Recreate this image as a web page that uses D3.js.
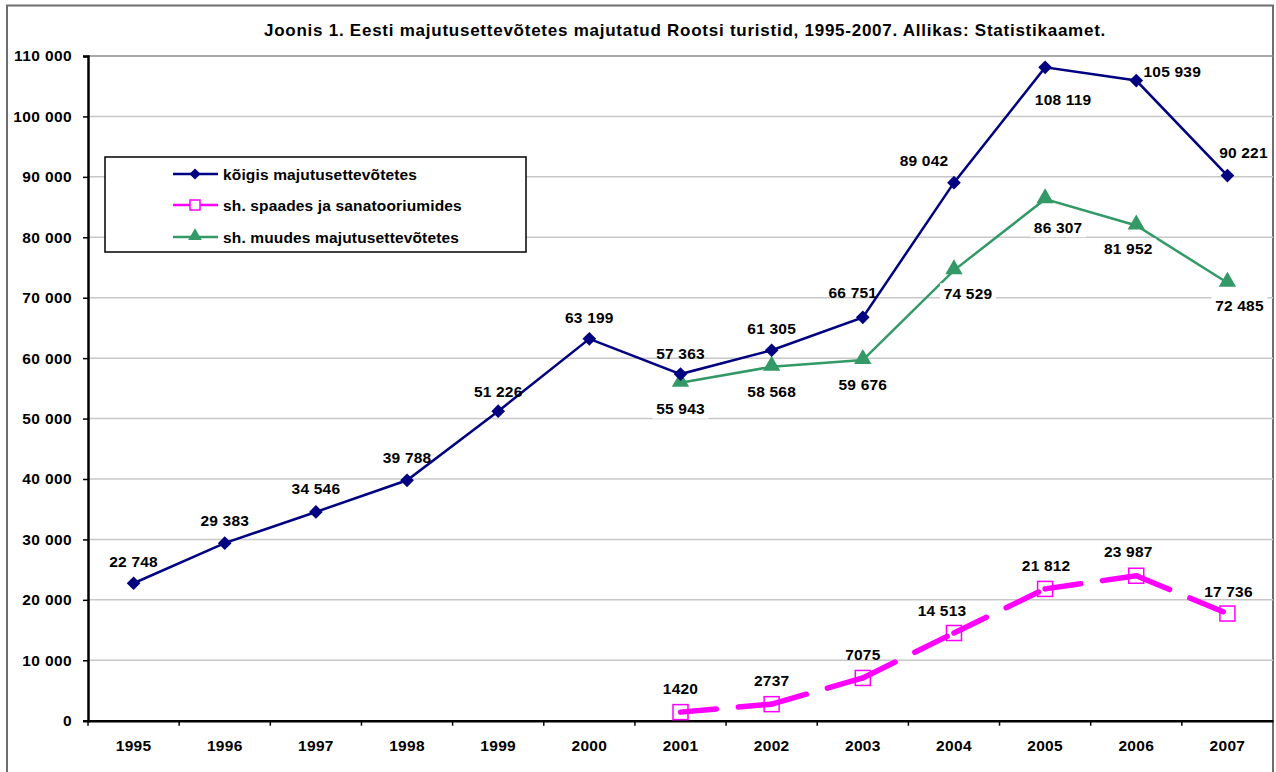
<!DOCTYPE html>
<html>
<head>
<meta charset="utf-8">
<script src="https://cdn.jsdelivr.net/npm/d3@7"></script>
<style>
  body { margin: 0; background: #fff; }
  svg { display: block; font-family: "Liberation Sans", Arial, sans-serif; }
</style>
</head>
<body>
<div id="chart"></div>
<script>

// data
var years = ["1995", "1996", "1997", "1998", "1999", "2000", "2001",
             "2002", "2003", "2004", "2005", "2006", "2007"];

var totalValues = [22748, 29383, 34546, 39788, 51226, 63199, 57363,
                   61305, 66751, 89042, 108119, 105939, 90221];

var spaYears = ["2001", "2002", "2003", "2004", "2005", "2006", "2007"];
var spaValues = [1420, 2737, 7075, 14513, 21812, 23987, 17736];

var otherYears = ["2001", "2002", "2003", "2004", "2005", "2006", "2007"];
var otherValues = [55943, 58568, 59676, 74529, 86307, 81952, 72485];

var legendNames = ["kõigis majutusettevõtetes",
                   "sh. spaades ja sanatooriumides",
                   "sh. muudes majutusettevõtetes"];

var yTicks = [0, 10000, 20000, 30000, 40000, 50000, 60000,
              70000, 80000, 90000, 100000, 110000];

var title = "Joonis 1. Eesti majutusettevõtetes majutatud Rootsi turistid, 1995-2007. Allikas: Statistikaamet.";

// where each data label sits relative to its point (dx, dy)
var totalLabelOff = [[0,-22],[0,-23],[0,-23],[0,-23],[0,-20],[0,-21],[0,-21],
                     [0,-22],[-10,-25],[-30,-22],[18,32],[36,-9],[16,-23]];
var spaLabelOff = [[0,-24],[0,-24],[0,-23],[-12,-23],[1,-23],[-8,-24],[1,-22]];
var otherLabelOff = [[0,26],[0,25],[0,24],[14,23],[13,28],[-8,23],[12,23]];


var W = 1276, H = 772;
var plotLeft = 88, plotRight = 1273, plotTop = 56, plotBottom = 720.7;

var navy = "#000080", pink = "#ff00ff", green = "#339966";

function fmt(v){
    if(v < 10000){ return String(v); }
    return d3.format(",")(v).replace(/,/g, " ");
}

var svg = d3.select("#chart").append("svg")
    .attr("width", W)
    .attr("height", H);

// outer frame
svg.append("rect")
    .attr("x", 7).attr("y", 5.5)
    .attr("width", 1266).attr("height", 790)
    .attr("fill", "#fff")
    .attr("stroke", "#6e6e6e")
    .attr("stroke-width", 2);

svg.append("text")
    .text(title)
    .attr("x", 685)
    .attr("y", 30)
    .attr("dominant-baseline", "central")
    .attr("text-anchor", "middle")
    .attr("font-size", "17px")
    .attr("letter-spacing", "0.75px")
    .attr("font-weight", "bold");

var x = d3.scaleBand().domain(years).range([plotLeft, plotRight]);
var y = d3.scaleLinear().domain([0, 110000]).range([plotBottom, plotTop]);

function cx(d){ return x(d) + x.bandwidth() / 2; }

// gridlines
svg.append("g")
    .selectAll("line")
    .data(yTicks.slice(1))
    .enter()
    .append("line")
    .attr("x1", plotLeft).attr("x2", plotRight)
    .attr("y1", function(d){ return y(d); })
    .attr("y2", function(d){ return y(d); })
    .attr("stroke", function(d){ return d == 110000 ? "#8c8c8c" : "#c8c8c8"; })
    .attr("stroke-width", 1.5);

// y axis
var yAxis = svg.append("g")
    .attr("transform", "translate(" + plotLeft + ",0)")
    .call(d3.axisLeft(y).tickValues(yTicks).tickSize(5).tickPadding(11).tickFormat(fmt));
yAxis.select(".domain").attr("stroke", "#000").attr("stroke-width", 2.5);
yAxis.selectAll(".tick line").attr("stroke", "#000").attr("stroke-width", 1.5);
yAxis.selectAll("text")
    .attr("font-size", "15.5px")
    .attr("letter-spacing", "0.4px")
    .attr("font-weight", "bold")
    .attr("fill", "#000")
    .attr("font-family", "Liberation Sans, Arial, sans-serif");

// x axis
var xAxis = svg.append("g")
    .attr("transform", "translate(0," + plotBottom + ")")
    .call(d3.axisBottom(x).tickSize(0).tickPadding(19));
xAxis.select(".domain").attr("stroke", "#000").attr("stroke-width", 2.5);
xAxis.selectAll("text")
    .attr("font-size", "15.5px")
    .attr("letter-spacing", "0.3px")
    .attr("font-weight", "bold")
    .attr("fill", "#000")
    .attr("font-family", "Liberation Sans, Arial, sans-serif");
// category boundary ticks
xAxis.selectAll("line.bound")
    .data(years)
    .enter()
    .append("line")
    .attr("class", "bound")
    .attr("x1", function(d){ return x(d); })
    .attr("x2", function(d){ return x(d); })
    .attr("y1", 0).attr("y2", 5)
    .attr("stroke", "#000")
    .attr("stroke-width", 1.5);

var line = d3.line()
    .x(function(d){ return cx(d[0]); })
    .y(function(d){ return y(d[1]); });

var totalPts = d3.zip(years, totalValues);
var spaPts = d3.zip(spaYears, spaValues);
var otherPts = d3.zip(otherYears, otherValues);

// spa line: dashed, the dash restarts at every point like Excel does
svg.append("g")
    .selectAll("path")
    .data(d3.pairs(spaPts))
    .enter()
    .append("path")
    .attr("d", function(d){ return line(d); })
    .attr("fill", "none")
    .attr("stroke", pink)
    .attr("stroke-width", 5.5)
    .attr("stroke-linecap", "round")
    .attr("stroke-dasharray", "36,22");

svg.append("path")
    .datum(otherPts)
    .attr("d", line)
    .attr("fill", "none")
    .attr("stroke", green)
    .attr("stroke-width", 2.5);

svg.append("path")
    .datum(totalPts)
    .attr("d", line)
    .attr("fill", "none")
    .attr("stroke", navy)
    .attr("stroke-width", 2.5);

var diamond = d3.symbol().type(d3.symbolDiamond2).size(120);
var triangle = d3.symbol().type(d3.symbolTriangle).size(130);

svg.append("g")
    .selectAll("rect")
    .data(spaPts)
    .enter()
    .append("rect")
    .attr("x", function(d){ return cx(d[0]) - 7.5; })
    .attr("y", function(d){ return y(d[1]) - 7.5; })
    .attr("width", 15).attr("height", 15)
    .attr("fill", "none")
    .attr("stroke", pink)
    .attr("stroke-width", 1.5);

svg.append("g")
    .selectAll("path")
    .data(otherPts)
    .enter()
    .append("path")
    .attr("d", triangle)
    .attr("transform", function(d){ return "translate(" + cx(d[0]) + "," + (y(d[1]) - 1) + ")"; })
    .attr("fill", green);

svg.append("g")
    .selectAll("path")
    .data(totalPts)
    .enter()
    .append("path")
    .attr("d", diamond)
    .attr("transform", function(d){ return "translate(" + cx(d[0]) + "," + y(d[1]) + ")"; })
    .attr("fill", navy);

// data labels
function addLabels(pts, offs, withBg){
    var g = svg.append("g");
    var items = g.selectAll("g")
        .data(pts)
        .enter()
        .append("g")
        .attr("transform", function(d, i){
            return "translate(" + (cx(d[0]) + offs[i][0]) + "," + (y(d[1]) + offs[i][1]) + ")";
        });
    if(withBg){
        items.append("rect")
            .attr("x", -28).attr("y", -10)
            .attr("width", 56).attr("height", 20)
            .attr("fill", "#fff");
    }
    items.append("text")
        .text(function(d){ return fmt(d[1]); })
        .attr("text-anchor", "middle")
        .attr("dominant-baseline", "central")
        .attr("font-size", "15.5px")
        .attr("letter-spacing", "0.2px")
        .attr("font-weight", "bold")
        .attr("fill", "#000");
}
addLabels(totalPts, totalLabelOff, false);
addLabels(spaPts, spaLabelOff, false);
addLabels(otherPts, otherLabelOff, true);

// legend
var lg = svg.append("g").attr("transform", "translate(105,157)");
lg.append("rect")
    .attr("width", 421).attr("height", 95)
    .attr("fill", "#fff")
    .attr("stroke", "#000")
    .attr("stroke-width", 1.5);

var rowY = [17, 48, 80];
var colors = [navy, pink, green];
var rows = lg.selectAll("g.row")
    .data(legendNames)
    .enter()
    .append("g")
    .attr("class", "row")
    .attr("transform", function(d, i){ return "translate(0," + rowY[i] + ")"; });

rows.append("line")
    .attr("x1", 68).attr("x2", 113)
    .attr("stroke", function(d, i){ return colors[i]; })
    .attr("stroke-width", 2.5);

rows.each(function(d, i){
    var r = d3.select(this);
    if(i == 0){
        r.append("path").attr("d", d3.symbol().type(d3.symbolDiamond2).size(80))
            .attr("transform", "translate(90,0)").attr("fill", navy);
    } else if(i == 1){
        r.append("rect").attr("x", 85).attr("y", -5).attr("width", 10).attr("height", 10)
            .attr("fill", "#fff").attr("stroke", pink).attr("stroke-width", 1.5);
    } else {
        r.append("path").attr("d", d3.symbol().type(d3.symbolTriangle).size(80))
            .attr("transform", "translate(90,-1)").attr("fill", green);
    }
});

rows.append("text")
    .text(function(d){ return d; })
    .attr("x", 118)
    .attr("dominant-baseline", "central")
    .attr("font-size", "15.5px")
    .attr("letter-spacing", "0.15px")
    .attr("font-weight", "bold")
    .attr("fill", "#000");

</script>
</body>
</html>
